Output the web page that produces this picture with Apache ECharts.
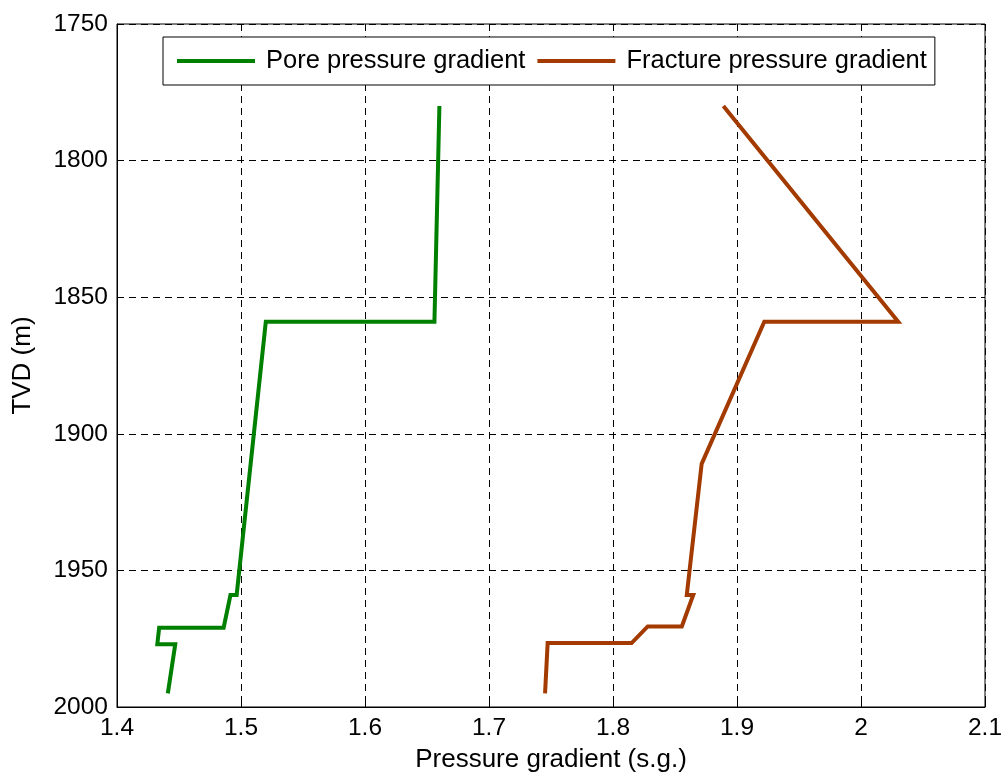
<!DOCTYPE html>
<html>
<head>
<meta charset="utf-8">
<title>Pressure gradient vs TVD</title>
<script src="https://cdn.jsdelivr.net/npm/echarts@6/dist/echarts.min.js"></script>
<style>
  html, body { margin: 0; padding: 0; background: #ffffff; }
  #chart { width: 1003px; height: 776px; }
</style>
</head>
<body>
<div id="chart"></div>
<script>
// Pore pressure gradient profile (s.g.) against true vertical depth (m)
const poreDepth = [1780, 1859, 1859, 1959, 1959, 1971, 1971, 1977, 1977, 1995];
const poreGrad  = [1.660, 1.656, 1.520, 1.4965, 1.4915, 1.486, 1.434, 1.4325, 1.447, 1.441];

// Fracture pressure gradient profile (s.g.) against true vertical depth (m)
const fracDepth = [1780, 1859, 1859, 1911, 1959, 1959, 1970.5, 1970.5, 1976.6, 1976.6, 1995];
const fracGrad  = [1.889, 2.030, 1.922, 1.8715, 1.8595, 1.8647, 1.8555, 1.828, 1.815, 1.7473, 1.7452];

const xTicks = { min: 1.4, max: 2.1, step: 0.1 };
const yTicks = { min: 1750, max: 2000, step: 50 };

const seriesNames = ['Pore pressure gradient', 'Fracture pressure gradient'];
const seriesColors = ['#008000', '#a33a00'];

const pairs = (xs, ys) => xs.map((x, i) => [x, ys[i]]);

const FONT = 'Liberation Sans, Arial, sans-serif';
const gridLine = { show: true, lineStyle: { color: '#000000', width: 1, type: [7, 5] } };

const chart = echarts.init(document.getElementById('chart'), null, { renderer: 'canvas' });

chart.setOption({
  backgroundColor: '#ffffff',
  animation: false,
  grid: {
    left: 117, right: 18, top: 24, bottom: 69,
    outerBoundsMode: 'none',
    containLabel: false,
    show: true, borderColor: '#000000', borderWidth: 1, backgroundColor: 'transparent'
  },
  legend: {
    data: seriesNames,
    top: 37, left: 163,
    orient: 'horizontal',
    icon: 'rect',
    itemWidth: 78, itemHeight: 4,
    itemGap: 12,
    padding: [11, 8, 11, 14],
    borderColor: '#000000', borderWidth: 1,
    backgroundColor: '#ffffff',
    textStyle: { fontFamily: FONT, fontSize: 25.5, color: '#000000', padding: [0, 0, 0, 6] }
  },
  xAxis: {
    type: 'value',
    min: xTicks.min, max: xTicks.max, interval: xTicks.step,
    name: 'Pressure gradient (s.g.)',
    nameLocation: 'middle', nameGap: 40,
    nameTextStyle: { fontFamily: FONT, fontSize: 26, color: '#000000' },
    axisLine: { show: true, onZero: false, lineStyle: { color: '#000000', width: 1 } },
    axisTick: { show: true, inside: true, length: 5, lineStyle: { color: '#000000' } },
    axisLabel: { fontFamily: FONT, fontSize: 24.5, color: '#000000', margin: 9 },
    splitLine: gridLine
  },
  yAxis: {
    type: 'value',
    inverse: true,
    min: yTicks.min, max: yTicks.max, interval: yTicks.step,
    name: 'TVD (m)',
    nameLocation: 'middle', nameGap: 81, nameRotate: 90,
    nameTextStyle: { fontFamily: FONT, fontSize: 26, color: '#000000' },
    axisLine: { show: true, onZero: false, lineStyle: { color: '#000000', width: 1 } },
    axisTick: { show: true, inside: true, length: 5, lineStyle: { color: '#000000' } },
    axisLabel: {
      fontFamily: FONT, fontSize: 24.5, color: '#000000', margin: 9,
      formatter: (v) => String(v)
    },
    splitLine: gridLine
  },
  series: [
    {
      name: seriesNames[0],
      type: 'line',
      data: pairs(poreGrad, poreDepth),
      showSymbol: false, symbol: 'none',
      color: seriesColors[0],
      lineStyle: { color: seriesColors[0], width: 4, join: 'miter' },
      z: 3
    },
    {
      name: seriesNames[1],
      type: 'line',
      data: pairs(fracGrad, fracDepth),
      showSymbol: false, symbol: 'none',
      color: seriesColors[1],
      lineStyle: { color: seriesColors[1], width: 4, join: 'miter' },
      z: 3
    }
  ]
});
</script>
</body>
</html>
